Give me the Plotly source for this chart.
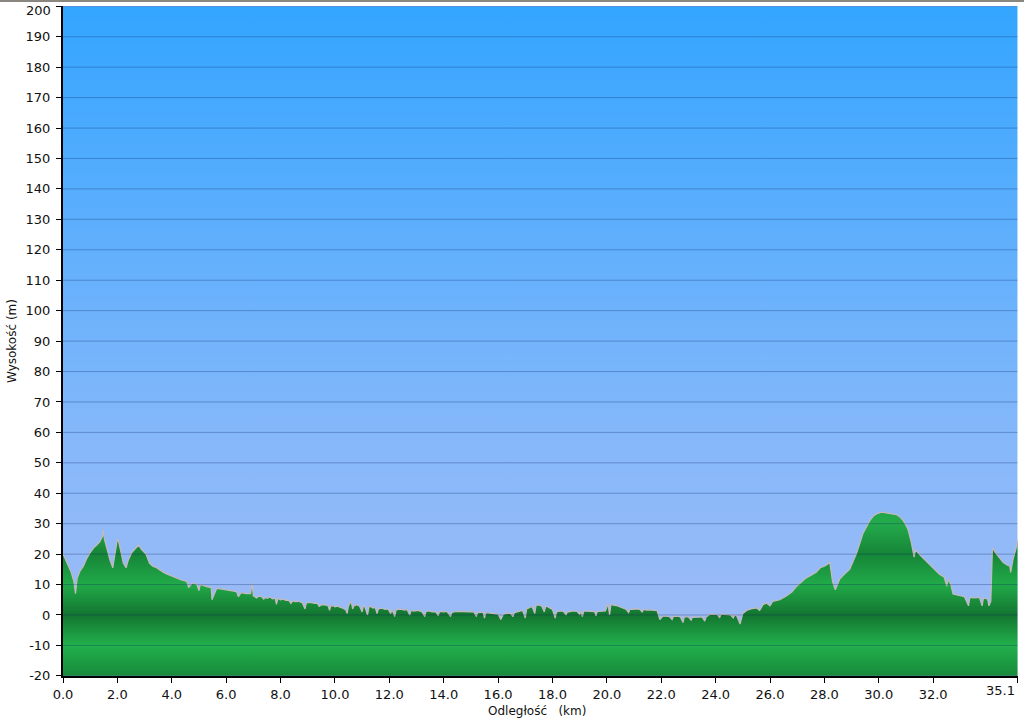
import plotly.graph_objects as go

# ---- data ----
distance_km = [
    0.00, 0.10, 0.20, 0.30, 0.40, 0.46, 0.52, 0.63, 0.75, 0.87, 1.00, 1.12, 1.24, 1.35, 1.46, 1.48, 1.52,
    1.60, 1.73, 1.83, 1.91, 2.00, 2.05, 2.10, 2.22, 2.32, 2.40, 2.53, 2.68, 2.78, 2.89, 3.05, 3.18, 3.30,
    3.44, 3.52, 3.60, 3.70, 3.81, 4.00, 4.18, 4.35, 4.55, 4.62, 4.75, 4.92, 5.00, 5.05, 5.28, 5.45, 5.48,
    5.65, 5.85, 6.02, 6.20, 6.38, 6.45, 6.55, 6.75, 6.90, 6.95, 7.00,
    7.12, 7.20, 7.30, 7.38, 7.45, 7.50, 7.62, 7.70, 7.80, 7.85, 7.90, 8.00, 8.10, 8.20, 8.30, 8.38, 8.45,
    8.53, 8.65, 8.80, 8.90, 8.95, 9.10, 9.26, 9.35, 9.42, 9.50, 9.62, 9.75, 9.80, 9.85, 9.93, 10.00,
    10.10, 10.20, 10.30, 10.40, 10.45, 10.50, 10.60, 10.65, 10.70, 10.80, 10.90, 11.00, 11.05, 11.10, 11.20,
    11.25, 11.32, 11.40, 11.48, 11.55, 11.60, 11.72, 11.84, 11.95, 12.05, 12.10, 12.20, 12.25, 12.40, 12.57,
    12.65, 12.75, 12.80, 12.90, 13.05, 13.20, 13.30, 13.35, 13.45, 13.58, 13.70, 13.80, 13.85, 14.00, 14.12,
    14.25, 14.30, 14.45, 14.60, 14.75, 14.96, 15.10, 15.20, 15.25, 15.30, 15.45, 15.50, 15.55, 15.70, 15.85,
    16.00, 16.10, 16.20, 16.32, 16.45, 16.55, 16.60, 16.70, 16.80, 16.90, 17.00, 17.05, 17.15, 17.25, 17.35,
    17.40, 17.50, 17.60, 17.70, 17.75, 17.80, 17.90, 18.00, 18.10, 18.15, 18.28, 18.40, 18.50, 18.55, 18.60,
    18.75, 18.90, 19.00, 19.05, 19.10, 19.15, 19.30, 19.40, 19.55, 19.60, 19.65, 19.70, 19.85, 19.95, 20.04,
    20.10, 20.15, 20.20, 20.35, 20.45, 20.55, 20.70, 20.80, 20.85, 20.95, 21.08, 21.20, 21.30, 21.35, 21.46,
    21.58, 21.70, 21.85, 21.95, 22.07, 22.15, 22.30, 22.40, 22.45, 22.50, 22.60, 22.70, 22.80, 22.85, 23.00,
    23.10, 23.15, 23.20, 23.30, 23.40, 23.50, 23.60, 23.65, 23.80, 23.90, 24.05, 24.15, 24.20, 24.30, 24.45,
    24.55, 24.65, 24.70, 24.77, 24.90, 25.00, 25.14, 25.30, 25.50, 25.62, 25.75, 25.87, 26.00, 26.10, 26.36,
    26.60, 26.80, 26.97, 27.15, 27.30, 27.50, 27.70, 27.85, 28.00, 28.20, 28.30, 28.40, 28.57, 28.75, 28.93,
    29.05, 29.18, 29.30, 29.42, 29.55, 29.67, 29.80, 29.97, 30.10, 30.28, 30.45, 30.65, 30.80, 30.90, 31.00,
    31.08, 31.15, 31.20, 31.30, 31.35, 31.50, 31.70, 31.88, 32.05, 32.24, 32.40, 32.50, 32.55, 32.65, 32.73,
    32.85, 32.98, 33.15, 33.30, 33.35, 33.50, 33.70, 33.80, 33.85, 34.00, 34.05, 34.12, 34.15, 34.18, 34.33,
    34.45, 34.57, 34.70, 34.82, 34.85, 34.94, 35.05, 35.10,
]
elevation_m = [
    20.0, 18.0, 16.0, 14.0, 11.0, 7.0, 12.0, 14.5, 16.0, 18.5, 20.5, 22.0, 23.0, 24.0, 26.0, 28.0, 25.0,
    22.0, 18.0, 15.5, 20.0, 25.0, 24.0, 22.0, 17.0, 15.5, 18.0, 20.5, 22.0, 23.0, 21.5, 20.0, 17.0, 16.0,
    15.5, 15.0, 14.5, 14.0, 13.5, 12.8, 12.0, 11.5, 11.0, 9.0, 10.5, 10.0, 8.0, 10.0, 9.3, 9.0, 5.0,
    8.7, 8.5, 8.3, 8.0, 7.7, 6.0, 7.3, 7.0, 7.0, 10.5, 6.3,
    5.6, 6.2, 6.0, 5.2, 5.8, 5.5, 5.9, 5.3, 5.5, 3.5, 5.4, 5.0, 5.2, 4.8, 4.9, 3.8, 4.6,
    4.4, 4.5, 4.0, 2.0, 4.0, 4.1, 3.8, 3.9, 2.8, 3.3, 3.4, 3.0, 1.5, 3.0, 3.1, 2.7,
    2.9, 2.5, 2.2, 1.6, 0.5, 3.0, 4.5, 2.0, 3.0, 3.4, 3.0, 1.0, 3.0, 2.7, 0.0,
    2.6, 2.8, 2.3, 2.5, 0.5, 2.0, 2.2, 1.8, 2.0, 0.5, 1.8, -0.5, 1.7, 1.9, 1.6,
    1.8, 0.0, 1.5, 1.3, 1.5, 1.1, -0.5, 1.2, 1.3, 1.0, 1.1, -0.2, 1.2, 1.0, 1.2,
    -0.5, 0.8, 1.2, 1.1, 0.9, 1.0, 1.1, -0.5, 0.9, 0.8, 0.9, -1.0, 0.8, 0.7, 0.6,
    0.3, -1.5, 0.3, 0.5, 0.6, -0.5, 0.8, 1.0, 1.2, 1.5, -1.0, 2.0, 2.4, 2.8, 0.5,
    3.3, 3.2, 3.0, 1.0, 2.9, 2.8, 2.2, 1.8, -1.0, 1.0, 1.3, 1.2, 0.0, 1.1, 1.0,
    1.3, 1.2, 0.2, 1.2, -0.5, 1.3, 1.2, 1.3, 1.1, -0.3, 1.2, 1.2, 1.4, 1.3, 3.7,
    0.0, 3.5, 3.3, 3.1, 2.8, 2.5, 1.9, 0.8, 1.9, 1.8, 2.0, 1.9, 1.0, 1.8, 1.6,
    1.7, 1.6, 1.4, -1.5, -0.3, -0.4, -0.5, -1.5, -0.4, -0.5, -0.4, -0.6, -2.5, -0.6, -0.6,
    -1.8, -0.6, -0.8, -0.7, -0.8, -0.6, -2.0, -0.7, 0.2, 0.3, 0.2, -0.8, 0.2, 0.2, 0.1,
    0.0, -1.0, 0.0, -0.2, -3.0, 0.5, 1.5, 2.0, 2.3, 1.5, 3.5, 3.9, 3.0, 4.5, 5.0,
    6.2, 7.5, 9.3, 10.8, 12.0, 13.0, 14.0, 15.5, 16.0, 17.2, 11.0, 8.3, 11.9, 13.5, 15.0,
    17.5, 20.2, 23.5, 26.8, 29.0, 31.0, 32.5, 33.4, 33.8, 33.6, 33.4, 33.0, 32.0, 31.0, 29.5,
    28.0, 25.5, 23.7, 19.0, 21.5, 19.8, 18.0, 16.6, 15.0, 13.3, 12.5, 9.5, 11.7, 10.0, 6.9,
    6.6, 6.4, 6.0, 3.0, 5.8, 5.6, 5.8, 3.0, 5.5, 5.3, 3.0, 4.5, 12.0, 22.0, 20.0,
    18.5, 17.3, 16.5, 16.0, 14.0, 18.4, 22.0, 24.5,
]

x_tick_vals = [0, 2, 4, 6, 8, 10, 12, 14, 16, 18, 20, 22, 24, 26, 28, 30, 32, 35.1]
x_tick_text = ["0.0", "2.0", "4.0", "6.0", "8.0", "10.0", "12.0", "14.0", "16.0", "18.0",
               "20.0", "22.0", "24.0", "26.0", "28.0", "30.0", "32.0", "35.1"]
y_tick_vals = list(range(-20, 201, 10))
y_tick_text = [str(v) for v in y_tick_vals]

X_MIN, X_MAX = 0.0, 35.1
Y_MIN, Y_MAX = -20, 200

fig = go.Figure()

# sky background gradient
fig.add_trace(go.Scatter(
    x=[X_MIN, X_MAX, X_MAX, X_MIN, X_MIN], y=[Y_MIN, Y_MIN, Y_MAX, Y_MAX, Y_MIN],
    mode="lines", line=dict(width=0), fill="toself",
    fillgradient=dict(type="vertical", start=Y_MIN, stop=Y_MAX,
                      colorscale=[[0, "#a2bcf5"], [0.35, "#86b8fa"], [1, "#33a5ff"]]),
    hoverinfo="skip", showlegend=False,
))

# terrain fill (polygon down to the axis minimum)
poly_x = distance_km + [distance_km[-1], distance_km[0]]
poly_y = elevation_m + [Y_MIN, Y_MIN]
fig.add_trace(go.Scatter(
    x=poly_x, y=poly_y, mode="lines", line=dict(width=0), fill="toself",
    fillgradient=dict(type="vertical", start=-20, stop=40,
                      colorscale=[[0, "#178a3a"], [0.1667, "#22b04c"], [0.3333, "#137530"],
                                  [0.5, "#21aa49"], [0.6667, "#168538"], [0.8333, "#24aa4c"],
                                  [1, "#1b9a40"]]),
    hoverinfo="skip", showlegend=False,
))

# terrain outline
fig.add_trace(go.Scatter(
    x=distance_km, y=elevation_m, mode="lines",
    line=dict(color="#c4baba", width=1.2),
    hoverinfo="skip", showlegend=False,
))

shapes = []
for v in y_tick_vals:
    shapes.append(dict(type="line", xref="x", yref="y", x0=X_MIN, x1=X_MAX, y0=v, y1=v,
                       line=dict(color="rgba(10,35,100,0.30)", width=1), layer="above"))
# top grey border of the image
shapes.append(dict(type="line", xref="paper", yref="paper", x0=-0.1, x1=1.02,
                   y0=1 + 5.2 / 670, y1=1 + 5.2 / 670,
                   line=dict(color="#8a8680", width=2.5), layer="above"))

# edge tick labels are drawn as annotations, nudged inward like the reference
y_text_shown = [t if v != Y_MAX else "" for v, t in zip(y_tick_vals, y_tick_text)]
x_text_shown = [t if v != X_MAX else "" for v, t in zip(x_tick_vals, x_tick_text)]

fig.update_layout(
    width=1024, height=722,
    margin=dict(l=63, r=6, t=6, b=46),
    paper_bgcolor="white", plot_bgcolor="white",
    font=dict(family="DejaVu Sans", size=13, color="#111111"),
    shapes=shapes,
    xaxis=dict(range=[X_MIN, X_MAX + 0.02], tickvals=x_tick_vals, ticktext=x_text_shown,
               automargin=False, ticklabeloverflow="allow",
               showgrid=False, zeroline=False, showline=True, linecolor="black", linewidth=2,
               ticks="outside", ticklen=5, tickcolor="black", tickwidth=1),
    yaxis=dict(range=[Y_MIN - 0.05, Y_MAX + 0.1], tickvals=y_tick_vals, ticktext=y_text_shown,
               automargin=False, ticklabeloverflow="allow", ticklabelstandoff=3,
               showgrid=False, zeroline=False, showline=True, linecolor="black", linewidth=2,
               ticks="outside", ticklen=5, tickcolor="black", tickwidth=1),
    annotations=[
        dict(text="Odległość\u00a0\u00a0\u00a0(km)", xref="paper", yref="paper", x=0.5, y=0,
             xshift=-4, yshift=-35, xanchor="center", yanchor="middle", showarrow=False,
             font=dict(size=12)),
        dict(text="Wysokość (m)", xref="paper", yref="paper", x=0, y=0.5, xshift=-51,
             xanchor="center", yanchor="middle", textangle=-90, showarrow=False,
             font=dict(size=12)),
        dict(text=y_tick_text[-1], xref="paper", yref="y", x=0, y=Y_MAX, xshift=-10, yshift=-4,
             xanchor="right", yanchor="middle", showarrow=False, font=dict(size=13)),
        dict(text=x_tick_text[-1], xref="x", yref="paper", x=X_MAX, y=0, xshift=0, yshift=-14,
             xanchor="right", yanchor="middle", showarrow=False, font=dict(size=13)),
    ],
)

fig.write_html(
    "out.html",
    config={"displayModeBar": False},
    post_script="document.body.style.margin='0';document.body.style.padding='0';document.body.style.overflow='hidden';",
)
